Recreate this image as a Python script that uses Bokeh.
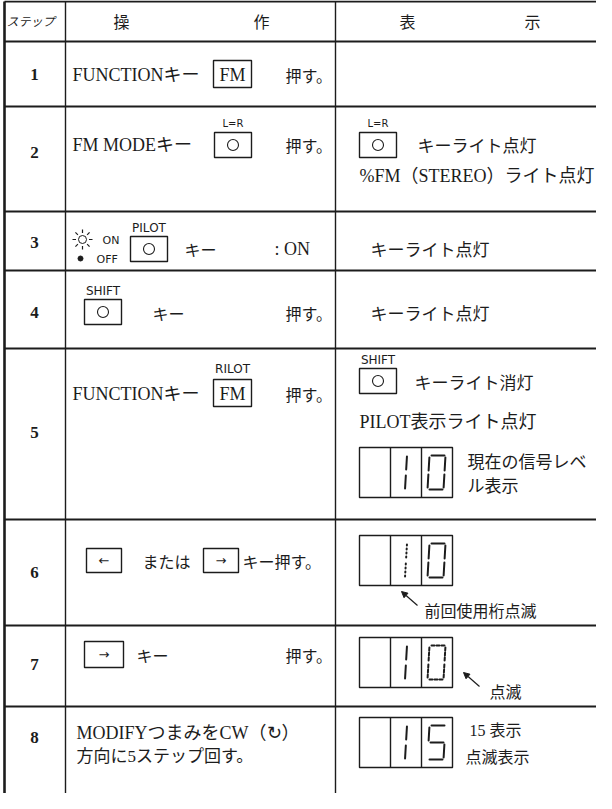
from bokeh.plotting import figure
from bokeh.models import Range1d, Arrow, NormalHead
from bokeh.core.properties import value
from bokeh.embed import file_html
from bokeh.resources import INLINE
import math

# ---------------- data ----------------
header_labels = ["ステップ", "操", "作", "表", "示"]
steps = ["1", "2", "3", "4", "5", "6", "7", "8"]
op_main = ["FUNCTIONキー", "FM MODEキー", "キー", "キー", "FUNCTIONキー", "または", "キー", "MODIFYつまみをCW（↻）"]
op_tail = ["押す。", "押す。", ": ON", "押す。", "押す。", "キー押す。", "押す。", "方向に5ステップ回す。"]
key_caps = ["FM", "", "", "", "FM", "", "", ""]
key_tops = ["", "L=R", "PILOT", "SHIFT", "RILOT", "", "", ""]
arrow_keys = ["←", "→"]
sun_labels = ["ON", "OFF"]
disp_line1 = ["", "キーライト点灯", "キーライト点灯", "キーライト点灯", "キーライト消灯", "", "", ""]
disp_line2 = ["", "%FM（STEREO）ライト点灯", "", "", "PILOT表示ライト点灯", "", "", ""]
disp_key_tops = ["", "L=R", "", "", "SHIFT", "", "", ""]
disp_notes = {5: ["現在の信号レベ", "ル表示"], 6: ["前回使用桁点滅"], 7: ["点滅"], 8: ["15 表示", "点滅表示"]}
level_digits = {5: ["", "1", "0"], 6: ["", "1", "0"], 7: ["", "1", "0"], 8: ["", "1", "5"]}
digit_styles = {5: ["", "solid", "solid"], 6: ["", "dotted", "solid"],
                7: ["", "solid", "dashed"], 8: ["", "solid", "solid"]}

# ---------------- layout ----------------
INK = "#1c1c1c"
X_L, X_C1, X_C2, X_R = 12, 73, 343, 612
ROW_Y = [9, 49, 114, 219, 278, 356, 527, 633, 714, 809]

SERIF = value("Liberation Serif, Noto Sans CJK JP")
JP = value("Noto Sans CJK JP")
SANS = value("DejaVu Sans")

p = figure(width=596, height=793, x_range=Range1d(8, 604), y_range=Range1d(801, 8),
           output_backend="svg", toolbar_location=None, min_border=0,
           x_axis_location=None, y_axis_location=None)
p.grid.visible = False
p.outline_line_color = None
p.background_fill_color = "white"
p.border_fill_color = "white"


def put(x, y, s, size, font=SERIF, align="left", style="normal"):
    p.text(x=[x], y=[y], text=[s], text_font=font, text_font_size=f"{size}px",
           text_align=align, text_baseline="middle", text_font_style=style, text_color=INK)


def box(x0, x1, y0, y1, lw=1.4):
    p.quad(left=[x0], right=[x1], top=[y0], bottom=[y1], fill_color=None,
           line_color=INK, line_width=lw)


def round_key(x0, y0, top_label, label_size=12):
    box(x0, x0 + 37, y0, y0 + 25)
    p.scatter(x=[x0 + 18.5], y=[y0 + 12.5], marker="circle", size=11, fill_color=None,
              line_color=INK, line_width=1.1)
    if top_label:
        put(x0 + 18.5, y0 - 9, top_label, label_size, SANS, "center")


# grid lines
for i, y in enumerate(ROW_Y[:-1]):
    p.segment(x0=[X_L], y0=[y], x1=[X_R], y1=[y], line_color=INK, line_width=1.8)
p.segment(x0=[X_L], y0=[ROW_Y[0]], x1=[X_L], y1=[ROW_Y[-1]], line_color=INK, line_width=2.6)
for xc in (X_C1, X_C2):
    p.segment(x0=[xc], y0=[ROW_Y[0]], x1=[xc], y1=[ROW_Y[-1]], line_color=INK, line_width=1.4)

# header
hy = 28
put(38, hy, header_labels[0], 12, JP, "center", "italic")
put(129, hy, header_labels[1], 16, JP, "center")
put(269, hy, header_labels[2], 16, JP, "center")
put(415, hy, header_labels[3], 16, JP, "center")
put(540, hy, header_labels[4], 16, JP, "center")

# step numbers
step_y = [82, 160, 250, 320, 440, 580, 672, 745]
for s, y in zip(steps, step_y):
    put(42, y, s, 17, value("Liberation Serif"), "center", "bold")

# row 1
put(80, 82, op_main[0], 18)
box(221, 259, 68, 95)
put(240, 82, key_caps[0], 18, value("Liberation Serif"), "center")
put(293, 82, op_tail[0], 16, JP)

# row 2
put(80, 152, op_main[1], 18)
round_key(222, 140, key_tops[1], 10)
put(293, 152, op_tail[1], 16, JP)
round_key(367, 140, disp_key_tops[1], 10)
put(425, 152, disp_line1[1], 17, JP)
put(367, 183, disp_line2[1], 18)

# row 3 : sun / dot symbol + PILOT key
cx, cy = 90, 247
p.scatter(x=[cx], y=[cy], marker="circle", size=8, fill_color=None, line_color=INK, line_width=1.0)
for k in range(8):
    a = k * math.pi / 4
    p.segment(x0=[cx + 6.5 * math.cos(a)], y0=[cy + 6.5 * math.sin(a)],
              x1=[cx + 10 * math.cos(a)], y1=[cy + 10 * math.sin(a)], line_color=INK, line_width=1.2)
p.scatter(x=[88], y=[266], marker="circle", size=5, fill_color=INK, line_color=INK)
put(110, 248, sun_labels[0], 11, SANS)
put(104, 267, sun_labels[1], 11, SANS)
round_key(138, 244, key_tops[2])
put(192, 256, op_main[2], 16, JP)
put(282, 256, op_tail[2], 18)
put(378, 256, disp_line1[2], 17, JP)

# row 4
round_key(92, 307, key_tops[3])
put(160, 320, op_main[3], 16, JP)
put(293, 320, op_tail[3], 16, JP)
put(378, 320, disp_line1[3], 17, JP)

# row 5
put(80, 401, op_main[4], 18)
box(221, 259, 387, 414)
put(240, 401, key_caps[4], 18, value("Liberation Serif"), "center")
put(240, 376, key_tops[4], 12, SANS, "center")
put(293, 401, op_tail[4], 16, JP)
round_key(367, 376, disp_key_tops[4])
put(422, 389, disp_line1[4], 17, JP)
put(367, 429, disp_line2[4], 18)

# row 6
box(94, 129, 556, 580)
put(111.5, 568, arrow_keys[0], 13, SANS, "center")
put(150, 568, op_main[5], 16, JP)
box(211, 246, 556, 580)
put(228.5, 568, arrow_keys[1], 13, SANS, "center")
put(250, 568, op_tail[5], 16, JP)

# row 7
box(92, 131, 649, 675)
put(111.5, 662, arrow_keys[1], 13, SANS, "center")
put(144, 662, op_main[6], 16, JP)
put(293, 662, op_tail[6], 16, JP)

# row 8
put(84, 740, op_main[7], 18)
put(84, 764, op_tail[7], 17)

# ---------------- level displays ----------------
DASH = {"solid": "solid", "dotted": "1 3", "dashed": "3 2"}


def seg(x0, y0, x1, y1, dash):
    p.segment(x0=[x0], y0=[y0], x1=[x1], y1=[y1], line_color=INK, line_width=2.0,
              line_dash=dash, line_cap="round")


def digit(cx0, cy0, ch, style, w=31, h=50):
    dash = DASH[style]
    L, R = cx0 + 6, cx0 + 22
    T, B = cy0 + 8, cy0 + 42
    M = (T + B) / 2
    sl = 2.0

    def o(y):
        return sl * (B - y) / (B - T)

    if ch == "1":
        X = cx0 + w / 2 - 1
        seg(X + o(T + 1), T + 1, X + o(M - 3), M - 3, dash)
        seg(X + o(M + 3), M + 3, X + o(B - 1), B - 1, dash)
        return
    segs = {"0": "abcdef", "5": "afgcd"}[ch]
    table = {
        "a": (L + 2, T, R - 1, T),
        "b": (R, T + 2, R, M - 2),
        "c": (R, M + 2, R, B - 2),
        "d": (L + 2, B, R - 1, B),
        "e": (L, M + 2, L, B - 2),
        "f": (L, T + 2, L, M - 2),
        "g": (L + 2, M, R - 1, M),
    }
    for s in segs:
        a, b, c, d = table[s]
        seg(a + o(b), b, c + o(d), d, dash)


disp_top = {5: 455, 6: 543, 7: 645, 8: 725}
for r, y0 in disp_top.items():
    x0 = 367
    box(x0, x0 + 93, y0, y0 + 50, 1.4)
    for k in (1, 2):
        p.segment(x0=[x0 + 31 * k], y0=[y0], x1=[x0 + 31 * k], y1=[y0 + 50], line_color=INK, line_width=1.4)
    for k, (ch, st) in enumerate(zip(level_digits[r], digit_styles[r])):
        if ch:
            digit(x0 + 31 * k, y0, ch, st)

# notes beside displays
put(475, 468, disp_notes[5][0], 17, JP)
put(475, 492, disp_notes[5][1], 17, JP)
put(432, 617, disp_notes[6][0], 16, JP)
put(497, 698, disp_notes[7][0], 16, JP)
put(477, 738, disp_notes[8][0], 16)
put(473, 763, disp_notes[8][1], 16, JP)

# arrows pointing at the blinking digit
for xs, ys, xe, ye in [(425, 613, 409, 599), (487, 694, 471, 680)]:
    p.add_layout(Arrow(end=NormalHead(size=6, fill_color=INK, line_color=INK, line_width=1),
                       x_start=xs, y_start=ys, x_end=xe, y_end=ye, line_color=INK, line_width=1.2))

open("out.html", "w", encoding="utf-8").write(file_html(p, INLINE, "table"))
